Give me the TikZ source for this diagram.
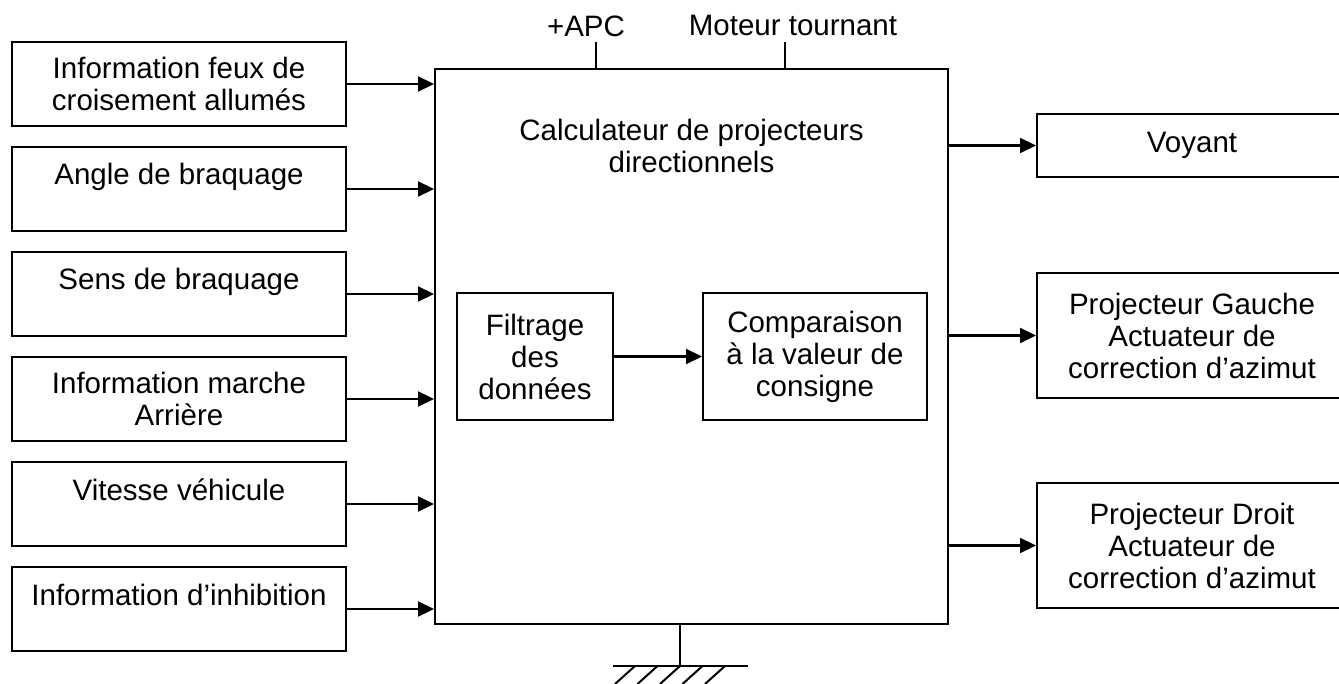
\documentclass[tikz,border=0pt]{standalone}
\usepackage{fontspec}
\setmainfont{Liberation Sans}
\usetikzlibrary{positioning, arrows.meta, calc}

\begin{document}
\begin{tikzpicture}[x=1pt, y=-1pt,
          every node/.style={font=\fontsize{29.5}{32}\selectfont},
          inbox/.style={draw, line width=2pt, minimum width=334pt,
                        minimum height=84pt, align=center, inner sep=0pt},
          topline/.style={text height=21pt, text depth=29pt},
          outbox/.style={draw, line width=2pt, minimum width=310pt,
                         align=center, inner sep=0pt},
          arr/.style={-{Triangle[length=16pt, width=15pt]}, line width=2.2pt}
        ]
        \useasboundingbox (0,0) rectangle (1339,684);

        % entrees
        \node[inbox] (feux) at (179,84)
              {Information feux de\\croisement allumés};
        \node[inbox, topline] (angle) at (179,189) {Angle de braquage};
        \node[inbox, topline] (sens) at (179,294) {Sens de braquage};
        \node[inbox] (marche) at (179,399)
              {Information marche\\Arrière};
        \node[inbox, topline] (vitesse) at (179,504) {Vitesse véhicule};
        \node[inbox, topline] (inhib) at (179,609) {Information d’inhibition};

        % calculateur
        \node[draw, line width=2pt, minimum width=513pt,
              minimum height=555pt] (calc) at (691.5,346.5) {};
        \node[inner sep=0pt, align=center, below=51pt of calc.north] (titre)
              {Calculateur de projecteurs\\directionnels};
        \node[draw, line width=2pt, minimum width=156pt, minimum height=127pt,
              align=center, inner sep=0pt] (filtre) at (535,356.5)
              {Filtrage\\des\\données};
        \node[draw, line width=2pt, minimum width=224pt, minimum height=127pt,
              align=center, inner sep=0pt] (compar) at (815,356.5)
              {Comparaison\\à la valeur de\\consigne};

        % sorties
        \node[outbox, minimum height=63pt] (voyant) at (1192,145.5) {Voyant};
        \node[outbox, minimum height=125pt] (gauche) at (1192,335.5)
              {Projecteur Gauche\\Actuateur de\\correction d’azimut};
        \node[outbox, minimum height=125pt] (droit) at (1192,545.5)
              {Projecteur Droit\\Actuateur de\\correction d’azimut};

        % alimentations
        \node[inner sep=0pt] (apc) at (586,26) {+APC};
        \node[inner sep=0pt] (moteur) at (793,26) {Moteur tournant};
        \coordinate (apcpin) at (596,42);
        \coordinate (motpin) at (785,42);

        % masse
        \coordinate (masse) at (680,666);
        \coordinate (mg) at (613,666);
        \coordinate (md) at (748,666);

        \draw[arr] (feux) -- (feux -| calc.west);
        \draw[arr] (angle) -- (angle -| calc.west);
        \draw[arr] (sens) -- (sens -| calc.west);
        \draw[arr] (marche) -- (marche -| calc.west);
        \draw[arr] (vitesse) -- (vitesse -| calc.west);
        \draw[arr] (inhib) -- (inhib -| calc.west);
        \draw[arr] (filtre) -- (compar);
        \draw[arr] (calc.east |- voyant) -- (voyant);
        \draw[arr] (calc.east |- gauche) -- (gauche);
        \draw[arr] (calc.east |- droit) -- (droit);

        \draw[line width=2.2pt] (apcpin) -- (apcpin |- calc.north);
        \draw[line width=2.2pt] (motpin) -- (motpin |- calc.north);
        \draw[line width=2.2pt] (masse |- calc.south) -- (masse);
        \draw[line width=2pt] (mg) -- (md);
        \foreach \hx in {635,657.5,680,702.5,725}
          \draw[line width=2pt] (\hx,666) -- ++(-20,18);
      \end{tikzpicture}
\end{document}
